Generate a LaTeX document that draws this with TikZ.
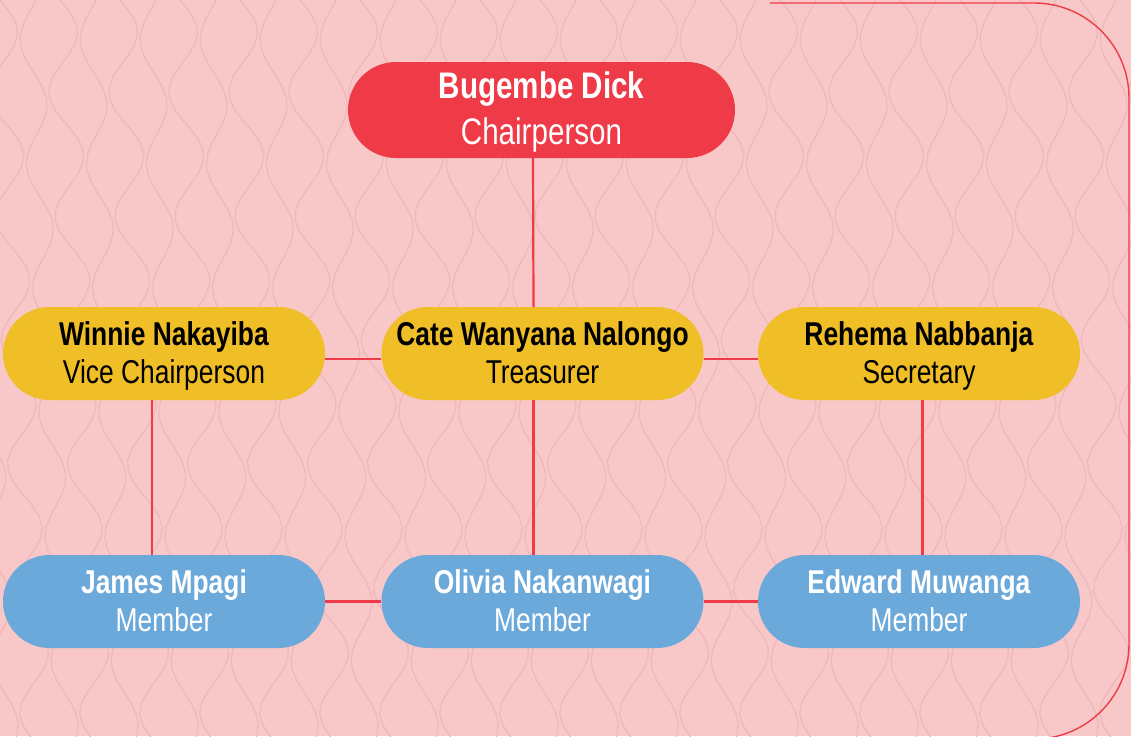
\documentclass[tikz,border=0pt]{standalone}
\usepackage{fontspec}
\setmainfont{Liberation Sans}[FakeStretch=0.8]
\definecolor{bgpink}{HTML}{F8C8C8}
\definecolor{wavepink}{HTML}{F0B6B9}
\definecolor{chairred}{HTML}{EF3A47}
\definecolor{offyellow}{HTML}{F0BE26}
\definecolor{membblue}{HTML}{6CA9DB}
\newcommand{\firstln}{\rule{0pt}{0.85em}}
\newcommand{\lastln}{\vphantom{Hg}}
\tikzset{
  pill/.style={rectangle, rounded corners=46.5pt, minimum width=322pt, minimum height=93pt, inner sep=0pt, align=center, font=\fontsize{33}{38}\selectfont},
  redpill/.style={pill, fill=chairred, text=white, minimum width=387pt, minimum height=96pt, rounded corners=48pt, font=\fontsize{37}{46}\selectfont},
  yelpill/.style={pill, fill=offyellow, text=black},
  bluepill/.style={pill, fill=membblue, text=white},
  link/.style={draw=chairred, line width=2.2pt},
  frame/.style={draw=chairred, line width=1.4pt, rounded corners=95pt},
  wave/.style={draw=wavepink, line width=1.2pt}
}
\begin{document}
\begin{tikzpicture}[x=1pt,y=-1pt]
\useasboundingbox (0,0) rectangle (1131,736);
\fill[bgpink] (0,0) rectangle (1131,736);
\begin{scope}
\clip (0,0) rectangle (1131,736);
\foreach \i in {-2,...,20} {
  \draw[wave] plot[domain=-10:746, samples=70, variable=\t] ({\i*60 + 0.05*\t + 16*sin(\t*2.9)}, \t);
  \draw[wave] plot[domain=-10:746, samples=70, variable=\t] ({\i*60 + 30 + 0.05*\t + 12*sin(\t*2.9+150)}, \t);
}
\end{scope}
\draw[frame] (770,3) -- (1129,3) -- (1129,739) -- (900,739);

\node[redpill] (chair) at (541.5,110) {\firstln\textbf{Bugembe Dick}\\\lastln Chairperson};
\node[yelpill] (winnie) at (164,353.5) {\firstln\textbf{Winnie Nakayiba}\\\lastln Vice Chairperson};
\node[yelpill] (cate) at (542.5,353.5) {\firstln\textbf{Cate Wanyana Nalongo}\\\lastln Treasurer};
\node[yelpill] (rehema) at (919,353.5) {\firstln\textbf{Rehema Nabbanja}\\\lastln Secretary};
\node[bluepill] (james) at (164,601.5) {\firstln\textbf{James Mpagi}\\\lastln Member};
\node[bluepill] (olivia) at (542.5,601.5) {\firstln\textbf{Olivia Nakanwagi}\\\lastln Member};
\node[bluepill] (edward) at (919,601.5) {\firstln\textbf{Edward Muwanga}\\\lastln Member};

\draw[link] ([xshift=-8.5pt]chair.south) -- ([xshift=-9pt]cate.north);
\draw[link] ([yshift=-5.5pt]winnie.east) -- ([yshift=-5.5pt]cate.west);
\draw[link] ([yshift=-5.5pt]cate.east) -- ([yshift=-5.5pt]rehema.west);
\draw[link] ([xshift=-12pt]winnie.south) -- ([xshift=-12pt]james.north);
\draw[link] ([xshift=-9pt]cate.south) -- ([xshift=-9pt]olivia.north);
\draw[link] ([xshift=3.5pt]rehema.south) -- ([xshift=3.5pt]edward.north);
\draw[link] (james.east) -- (olivia.west);
\draw[link] (olivia.east) -- (edward.west);
\end{tikzpicture}
\end{document}
